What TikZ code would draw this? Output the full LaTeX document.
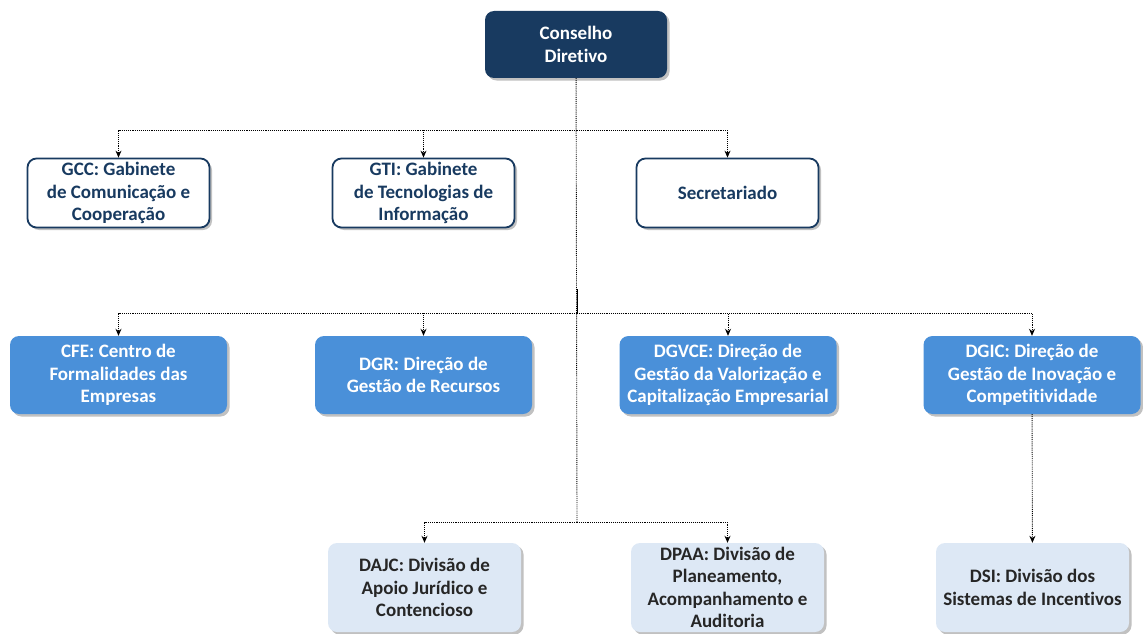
\documentclass[tikz,border=0pt]{standalone}
\usepackage{fontspec}
\setmainfont{Carlito}[Ligatures=NoCommon]
\usetikzlibrary{calc,positioning,arrows.meta,shadows}
\definecolor{navy}{RGB}{24,58,96}
\definecolor{midblue}{RGB}{74,144,217}
\definecolor{paleblue}{RGB}{221,232,245}

\begin{document}
\begin{tikzpicture}[x=1pt, y=-1pt]
\tikzstyle{box}=[rounded corners=9pt, align=center, inner sep=0pt,
                 font=\bfseries\fontsize{19}{22.5}\selectfont,
                 drop shadow={shadow xshift=2.5pt, shadow yshift=-2.5pt, opacity=.35, fill=black!70}]
\tikzstyle{topbox}=[box, fill=navy, text=white, minimum width=182pt, minimum height=67pt]
\tikzstyle{gab}=[box, draw=navy, line width=1.8pt, fill=white, text=navy, minimum width=182pt, minimum height=69pt]
\tikzstyle{dir}=[box, fill=midblue, text=white, minimum width=217pt, minimum height=78pt]
\tikzstyle{divn}=[box, fill=paleblue, text=black!85, minimum width=193pt, minimum height=89pt]
\tikzstyle{lnk}=[densely dotted, line width=0.9pt]
\tikzstyle{arr}=[lnk, -{Stealth[length=7pt, width=6pt]}]
\useasboundingbox (0,0) rectangle (1143,634);
% top
\node[topbox] (cd) at (576,44.5) {Conselho\\Diretivo};
% gabinetes
\node[gab] (gcc) at (118.5,193) {GCC: Gabinete\\de Comunicação e\\Cooperação};
\node[gab] (gti) at (423.5,193) {GTI: Gabinete\\de Tecnologias de\\Informação};
\node[gab] (sec) at (727.5,193) {Secretariado};
% direcoes
\node[dir] (cfe) at (118.5,375) {CFE: Centro de\\Formalidades das\\Empresas};
\node[dir] (dgr) at (423.5,375) {DGR: Direção de\\Gestão de Recursos};
\node[dir] (dgvce) at (728,375) {DGVCE: Direção de\\Gestão da Valorização e\\Capitalização Empresarial};
\node[dir] (dgic) at (1032,375) {DGIC: Direção de\\Gestão de Inovação e\\Competitividade};
% divisoes
\node[divn] (dajc) at (424.5,587.5) {DAJC: Divisão de\\Apoio Jurídico e\\Contencioso};
\node[divn] (dpaa) at (727.5,587.5) {DPAA: Divisão de\\Planeamento,\\Acompanhamento e\\Auditoria};
\node[divn] (dsi) at (1032.5,587.5) {DSI: Divisão dos\\Sistemas de Incentivos};
% connectors
\coordinate (j1) at (577,130);
\coordinate (j2) at (577,313);
\coordinate (j3) at (577,522);
\coordinate (t) at (577,289);
\draw[lnk] (cd) -- (j3);
\draw[line width=0.9pt] (t) -- (j2);
\foreach \n in {gcc,gti,sec}{\draw[arr] (j1) -| (\n.north);}
\foreach \n in {cfe,dgr,dgvce,dgic}{\draw[arr] (j2) -| (\n.north);}
\foreach \n in {dajc,dpaa}{\draw[arr] (j3) -| (\n.north);}
\draw[arr] (dgic) -- (dsi);
\end{tikzpicture}
\end{document}
